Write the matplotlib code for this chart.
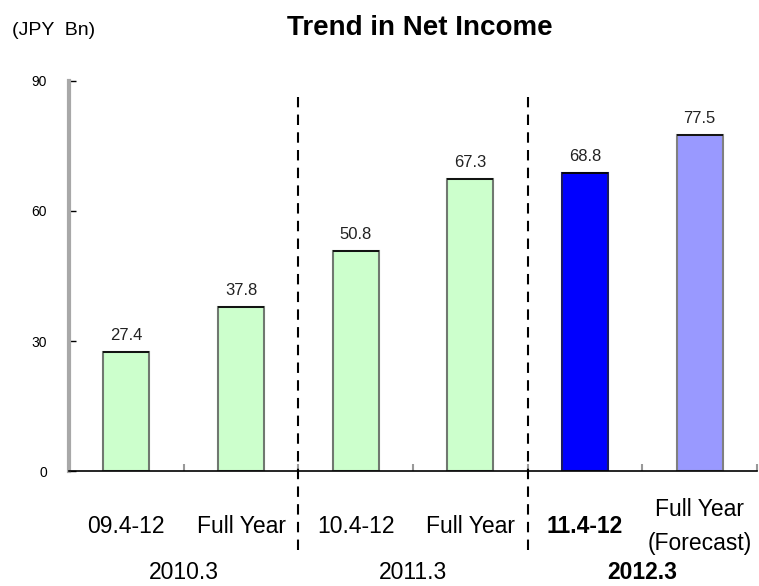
import numpy as np
import matplotlib.pyplot as plt

plt.rcParams['font.family'] = ['Liberation Sans', 'DejaVu Sans']

categories = ['09.4-12', 'Full Year', '10.4-12', 'Full Year', '11.4-12', 'Full Year\n(Forecast)']
values = [27.4, 37.8, 50.8, 67.3, 68.8, 77.5]
years = ['2010.3', '2011.3', '2012.3']
fill_colors = ['#CCFFCC', '#CCFFCC', '#CCFFCC', '#CCFFCC', '#0000FF', '#9999FF']
edge_colors = ['#707870', '#707870', '#707870', '#707870', '#1a1a60', '#808080']

fig = plt.figure(figsize=(7.59, 5.86), dpi=100)
ax = fig.add_axes([0.0909, 0.1962, 0.9065, 0.6656])

x = np.arange(len(values))
ax.bar(x, values, width=0.4, color=fill_colors, edgecolor=edge_colors, linewidth=1.5, zorder=2)
ax.hlines(values, x - 0.2, x + 0.2, color='black', linewidth=1.2, zorder=3)

for xi, v in zip(x, values):
    ax.annotate(f'{v:.1f}', (xi, v), xytext=(0, 12), textcoords='offset points',
                ha='center', va='center', fontsize=12, color='#222222')

ax.set_xlim(-0.5, 5.5)
ax.set_ylim(0, 90)
ax.set_yticks([0, 30, 60, 90])
ax.tick_params(axis='y', direction='in', length=5, width=1, color='black',
               labelsize=10, pad=16)
ax.set_xticks([])
ax.set_xticks(np.arange(-0.5, 6, 1.0), minor=True)
ax.tick_params(axis='x', which='minor', direction='in', length=5, width=1.5, color='#999999')

for s in ['top', 'right']:
    ax.spines[s].set_visible(False)
ax.spines['left'].set_color('#A8A8A8')
ax.spines['left'].set_linewidth(3)
ax.spines['bottom'].set_color('black')
ax.spines['bottom'].set_linewidth(1.2)

# category labels
trans = ax.get_xaxis_transform()
for xi, lab in zip(x, categories):
    bold = 'bold' if lab == '11.4-12' else 'normal'
    ax.text(xi, -0.143, lab, transform=trans, ha='center', va='center',
            fontsize=16.5, fontweight=bold, linespacing=1.6)

for i, yr in enumerate(years):
    ax.text(2 * i + 0.5, -0.26, yr, transform=trans, ha='center', va='center',
            fontsize=16.5, fontweight='bold' if i == 2 else 'normal')

# dashed separators between fiscal years
for xb in [1.5, 3.5]:
    ax.plot([xb, xb], [-0.203, 0.959], transform=trans, color='black',
            linewidth=1.5, linestyle=(0, (5, 3.5)), clip_on=False, zorder=4)

fig.text(0.553, 0.952, 'Trend in Net Income', ha='center', va='center',
         fontsize=20, fontweight='bold')
fig.text(0.016, 0.948, '(JPY  Bn)', ha='left', va='center', fontsize=14)

fig.savefig('out.png', dpi=100)
